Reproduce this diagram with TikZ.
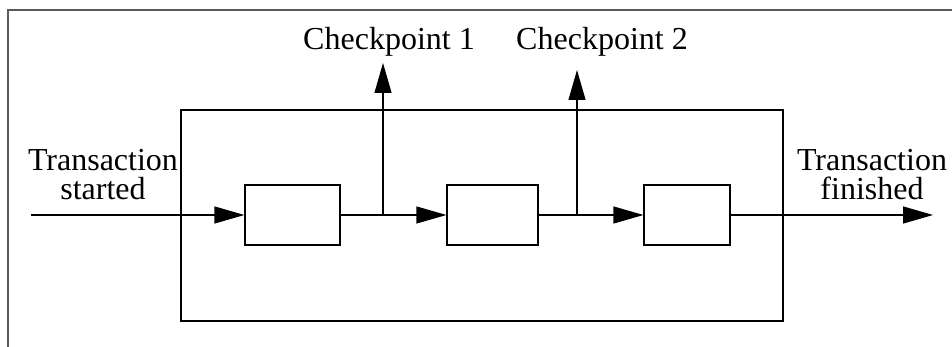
\documentclass[tikz,border=0pt]{standalone}
\usepackage{fontspec}
\setmainfont{Liberation Serif}
\usetikzlibrary{arrows.meta, positioning}

\begin{document}
\begin{tikzpicture}[x=0.5pt, y=-0.5pt,
			>={Triangle[length=15pt, width=8.5pt]},
			line width=0.6pt,
			stage/.style={draw, minimum height=30pt, inner sep=0pt},
			lbl/.style={font=\fontsize{16}{14.5}\selectfont, inner sep=0pt, align=center}]
			\useasboundingbox (0,0) rectangle (952,347);
			\draw[gray!70!black, line width=0.9pt] (8,347) -- (8,10) -- (952,10);
			\node at (482,215.5) (sys) [draw, minimum width=301pt, minimum height=105.5pt] {};
			\node at (292.5,215) (s1) [stage, minimum width=47.5pt] {};
			\node at (492.5,215) (s2) [stage, minimum width=45.5pt] {};
			\node at (687,215) (s3) [stage, minimum width=43pt] {};
			\node at (103,149) (start) [lbl, anchor=north] {Transaction\\started};
			\node at (872,149) (finish) [lbl, anchor=north] {Transaction\\finished};
			\node at (389,50) (cp1) [lbl, anchor=base] {Checkpoint 1};
			\node at (602,50) (cp2) [lbl, anchor=base] {Checkpoint 2};
			\coordinate (in) at (31,215);
			\coordinate (out) at (933,215);
			\coordinate (j1) at (383,215);
			\coordinate (j2) at (577,215);
			\coordinate (t1) at (383,63);
			\coordinate (t2) at (577,70);
			\draw[->] (in) -- (s1);
			\draw[->] (s1) -- (s2);
			\draw[->] (s2) -- (s3);
			\draw[->] (s3) -- (out);
			\draw[->] (j1) -- (t1);
			\draw[->] (j2) -- (t2);
		\end{tikzpicture}
\end{document}
